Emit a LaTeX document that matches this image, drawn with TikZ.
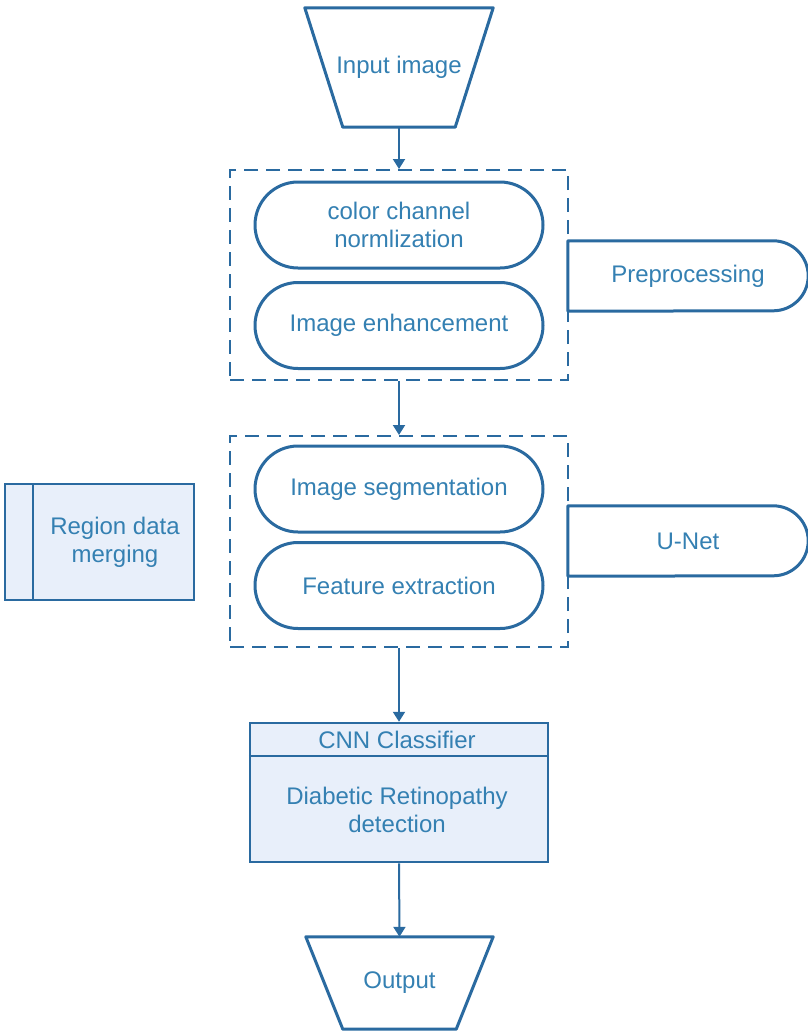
\documentclass[tikz,border=0pt]{standalone}
\usepackage{fontspec}
\setmainfont{Liberation Sans}
\usetikzlibrary{arrows.meta,calc}
\definecolor{dblue}{RGB}{42,106,160}
\definecolor{txt}{RGB}{52,128,178}
\definecolor{lfill}{RGB}{232,239,250}
\begin{document}
\begin{tikzpicture}[x=1pt,y=-1pt,
  every node/.style={font=\fontsize{24}{28}\selectfont, text=txt, align=center, inner sep=0pt},
  shp/.style={draw=dblue, line width=3pt, line join=round},
  stad/.style={shp, rectangle, rounded corners=43pt, minimum width=288pt, minimum height=86pt},
  grp/.style={draw=dblue, line width=2pt, dash pattern=on 14pt off 8pt, minimum width=338pt, minimum height=210pt},
  arr/.style={draw=dblue, line width=2pt, -{Triangle[width=12pt,length=10pt]}},
  fbox/.style={draw=dblue, fill=lfill, line width=2.5pt},
  sep/.style={draw=dblue, line width=2.5pt}
]
\useasboundingbox (0,0) rectangle (808,1031);

% input trapezoid
\node (in) [minimum width=188pt, minimum height=119pt] at (399,67.5) {Input image};
\draw[shp] (in.north west) -- (in.north east) -- ([xshift=-38pt]in.south east) -- ([xshift=38pt]in.south west) -- cycle;

% group 1
\node (g1) [grp] at (399,275) {};
\node (s1) [stad] at (399,225) {color channel\\normlization};
\node (s2) [stad] at (399,325.5) {Image enhancement};

% preprocessing
\node (pre) [minimum width=240pt, minimum height=70pt] at (688,276) {Preprocessing};
\draw[shp] (pre.north west) -- ([xshift=-35pt]pre.north east) arc[start angle=90, end angle=-90, radius=35pt] -- (pre.south west) -- cycle;

% group 2
\node (g2) [grp, minimum height=211pt] at (399,541.5) {};
\node (s3) [stad] at (399,489) {Image segmentation};
\node (s4) [stad] at (399,585.5) {Feature extraction};

% U-Net
\node (unet) [minimum width=240pt, minimum height=70pt] at (688,541) {U-Net};
\draw[shp] (unet.north west) -- ([xshift=-35pt]unet.north east) arc[start angle=90, end angle=-90, radius=35pt] -- (unet.south west) -- cycle;

% region data merging
\node (reg) [fbox, minimum width=189pt, minimum height=116pt] at (99.5,542) {};
\draw[sep] ([xshift=29pt]reg.north west) -- ([xshift=29pt]reg.south west);
\node (regt) at (115,542) {Region data\\merging};

% CNN classifier
\node (cnn) [fbox, minimum width=298pt, minimum height=139pt] at (399,792.5) {};
\draw[sep] ([yshift=-34pt]cnn.north west) -- ([yshift=-34pt]cnn.north east);
\node (cnnh) at (397,740) {CNN Classifier};
\node (cnnb) at (397,810) {Diabetic Retinopathy\\detection};

% output trapezoid
\node (out) [minimum width=187pt, minimum height=92pt] at (399.5,983) {Output};
\draw[shp] (out.north west) -- (out.north east) -- ([xshift=-37pt]out.south east) -- ([xshift=37pt]out.south west) -- cycle;

% arrows
\draw[arr] (in.south) -- (g1.north);
\draw[arr] (g1.south) -- (g2.north);
\draw[arr] (g2.south) -- (cnn.north);
\draw[arr] (cnn.south) -- (out.north);
\end{tikzpicture}
\end{document}
